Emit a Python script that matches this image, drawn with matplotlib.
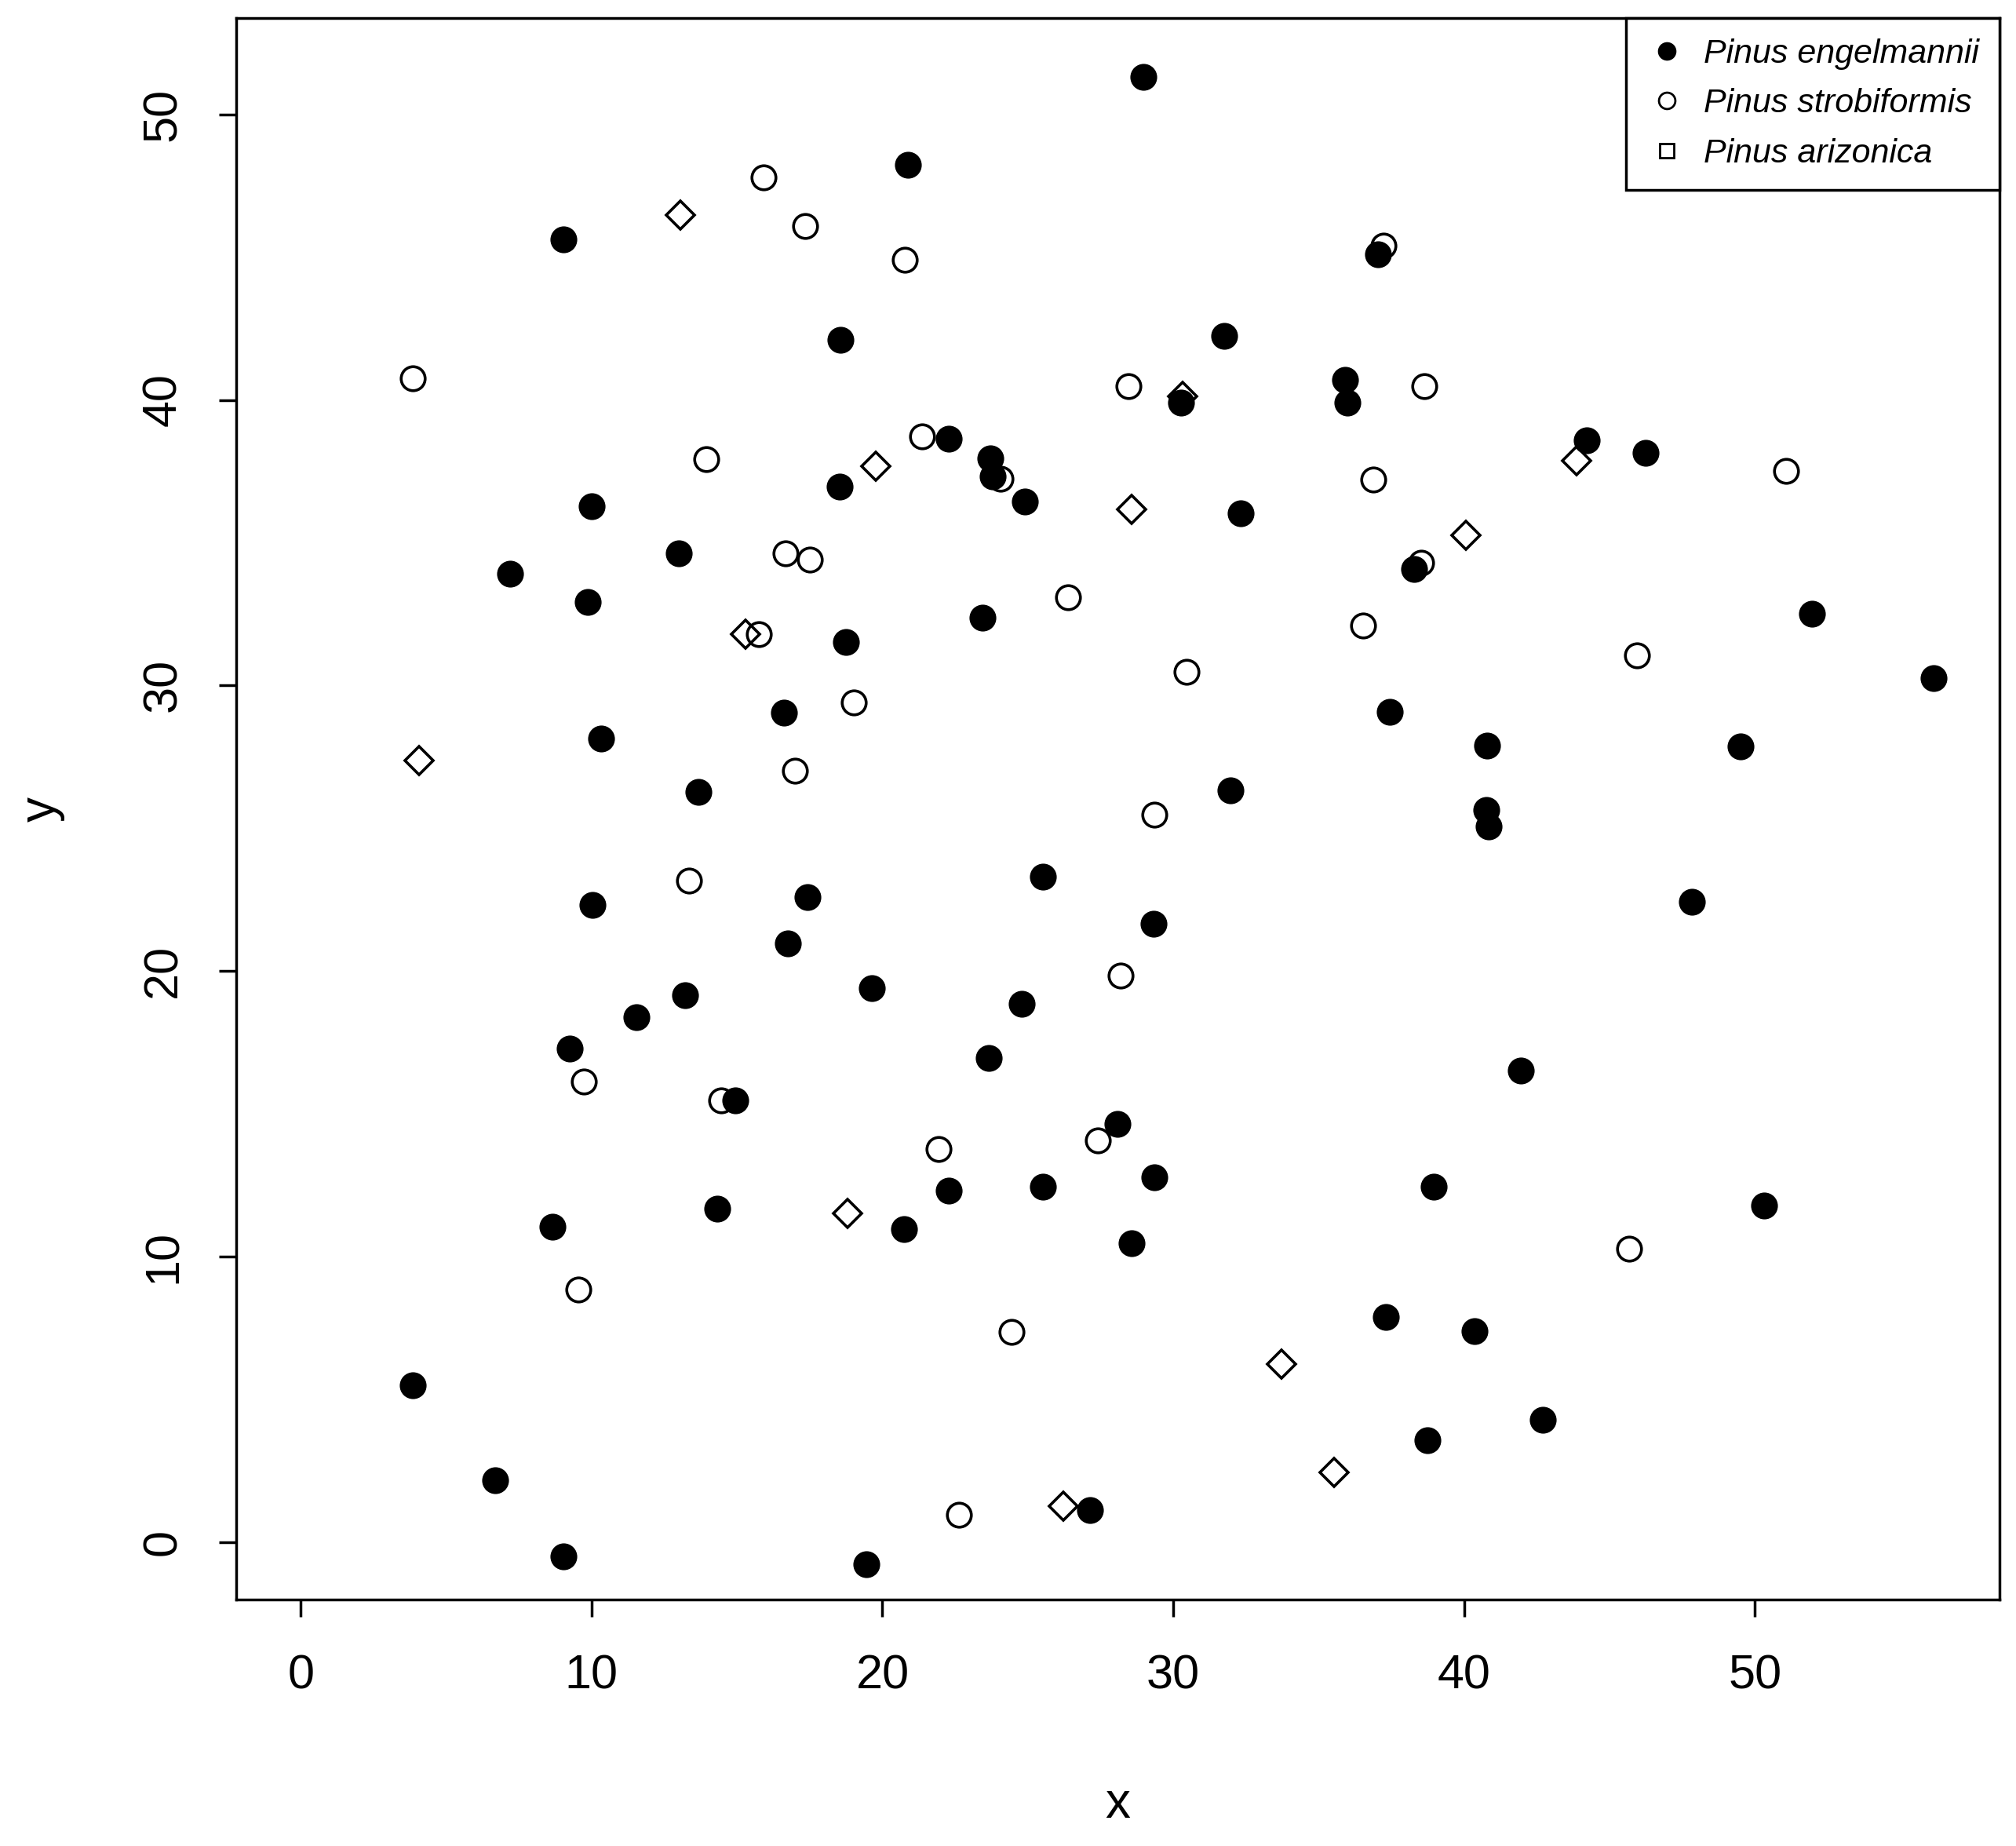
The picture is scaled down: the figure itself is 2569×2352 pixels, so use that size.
import matplotlib.pyplot as plt
from matplotlib.lines import Line2D

plt.rcParams['font.family'] = ['Liberation Sans', 'DejaVu Sans']

# Pinus engelmannii (filled circles)
eng_x = [28.96, 20.87, 9.02, 37.05, 18.57, 31.74, 35.9, 35.99, 30.28, 22.28, 23.7, 23.78,
         44.21, 46.24, 18.52, 9.99, 24.89, 32.32, 13.0, 7.21, 38.28, 9.86, 23.43, 18.74,
         51.95, 56.14, 16.62, 37.44, 10.34, 40.8, 49.51, 13.66, 31.96, 40.76, 40.85, 25.51,
         17.42, 10.04, 47.83, 29.31, 16.76, 19.63, 13.22, 24.8, 11.54, 9.24, 23.65, 41.95,
         14.94, 28.07, 29.35, 25.51, 22.28, 38.95, 14.32, 50.31, 8.66, 20.73, 28.56, 37.31,
         40.36, 3.85, 42.71, 38.73, 6.68, 27.14, 9.02, 19.45]
eng_y = [51.3, 48.24, 45.63, 45.09, 42.11, 42.25, 40.71, 39.9, 39.9, 38.64, 37.96, 37.33,
         38.59, 38.14, 36.97, 36.29, 36.43, 36.02, 34.63, 33.9, 34.08, 32.91, 32.37, 31.51,
         32.5, 30.25, 29.04, 29.08, 28.13, 27.9, 27.86, 26.28, 26.33, 25.65, 25.07, 23.31,
         22.59, 22.32, 22.41, 21.64, 20.96, 19.39, 19.16, 18.85, 18.39, 17.27, 16.95, 16.5,
         15.46, 14.65, 12.76, 12.44, 12.31, 12.44, 11.68, 11.77, 11.05, 10.96, 10.46, 7.89,
         7.39, 5.5, 4.28, 3.56, 2.16, 1.13, -0.5, -0.77]

# Pinus strobiformis (open circles)
str_x = [15.92, 17.33, 20.78, 37.22, 3.85, 28.47, 38.64, 13.93, 21.35, 24.05, 36.87, 51.06,
         16.67, 17.51, 38.51, 26.39, 36.52, 15.74, 45.93, 30.46, 19.01, 16.98, 29.35, 13.35,
         28.2, 9.73, 14.46, 21.93, 27.41, 45.67, 9.55, 24.45, 22.63]
str_y = [47.79, 46.08, 44.9, 45.4, 40.76, 40.49, 40.49, 37.92, 38.73, 37.24, 37.2, 37.51,
         34.63, 34.4, 34.31, 33.09, 32.1, 31.79, 31.06, 30.48, 29.4, 27.0, 25.47, 23.17,
         19.84, 16.14, 15.46, 13.75, 14.07, 10.28, 8.84, 7.35, 0.95]

# Pinus arizonica (open diamonds)
ari_x = [13.04, 30.33, 19.76, 28.56, 43.86, 40.05, 15.3, 4.07, 18.79, 33.73, 35.54, 26.22]
ari_y = [46.48, 40.13, 37.69, 36.16, 37.87, 35.26, 31.79, 27.37, 11.5, 6.22, 2.43, 1.26]

fig = plt.figure(figsize=(25.69, 23.52), dpi=100)
ax = fig.add_axes([0.1173, 0.1333, 0.8744, 0.857])

ms = 22
mew = 2.6
ax.plot(eng_x, eng_y, 'o', ms=ms, mfc='black', mec='black', mew=mew, linestyle='none')
ax.plot(str_x, str_y, 'o', ms=ms, mfc='none', mec='black', mew=mew, linestyle='none')
ax.plot(ari_x, ari_y, 'D', ms=ms * 0.85, mfc='none', mec='black', mew=mew, linestyle='none')

ax.set_xlim(-2.21, 58.4)
ax.set_ylim(-2.03, 53.38)
ax.set_xticks([0, 10, 20, 30, 40, 50])
ax.set_yticks([0, 10, 20, 30, 40, 50])
ax.tick_params(axis='x', labelsize=44, width=2.5, length=16, pad=34)
ax.tick_params(axis='y', labelsize=44, width=2.5, length=16, pad=30)
for lab in ax.get_yticklabels():
    lab.set_rotation(90)
    lab.set_va('center')
for s in ax.spines.values():
    s.set_linewidth(2.5)

ax.set_xlabel('x', fontsize=46, labelpad=75)
ax.set_ylabel('y', fontsize=46, labelpad=70)

handles = [
    Line2D([], [], marker='o', ls='none', ms=15, mfc='black', mec='black', mew=2),
    Line2D([], [], marker='o', ls='none', ms=15, mfc='none', mec='black', mew=2),
    Line2D([], [], marker='s', ls='none', ms=13, mfc='none', mec='black', mew=2),
]
leg = ax.legend(handles, ['Pinus engelmannii', 'Pinus strobiformis', 'Pinus arizonica'],
                loc='upper right', prop={'style': 'italic', 'size': 31},
                fancybox=False, edgecolor='black', framealpha=1, borderaxespad=0,
                handletextpad=0.5, borderpad=0.6, labelspacing=0.55, handlelength=1.2)
leg.get_frame().set_linewidth(2.5)

fig.savefig('out.png', dpi=100)
